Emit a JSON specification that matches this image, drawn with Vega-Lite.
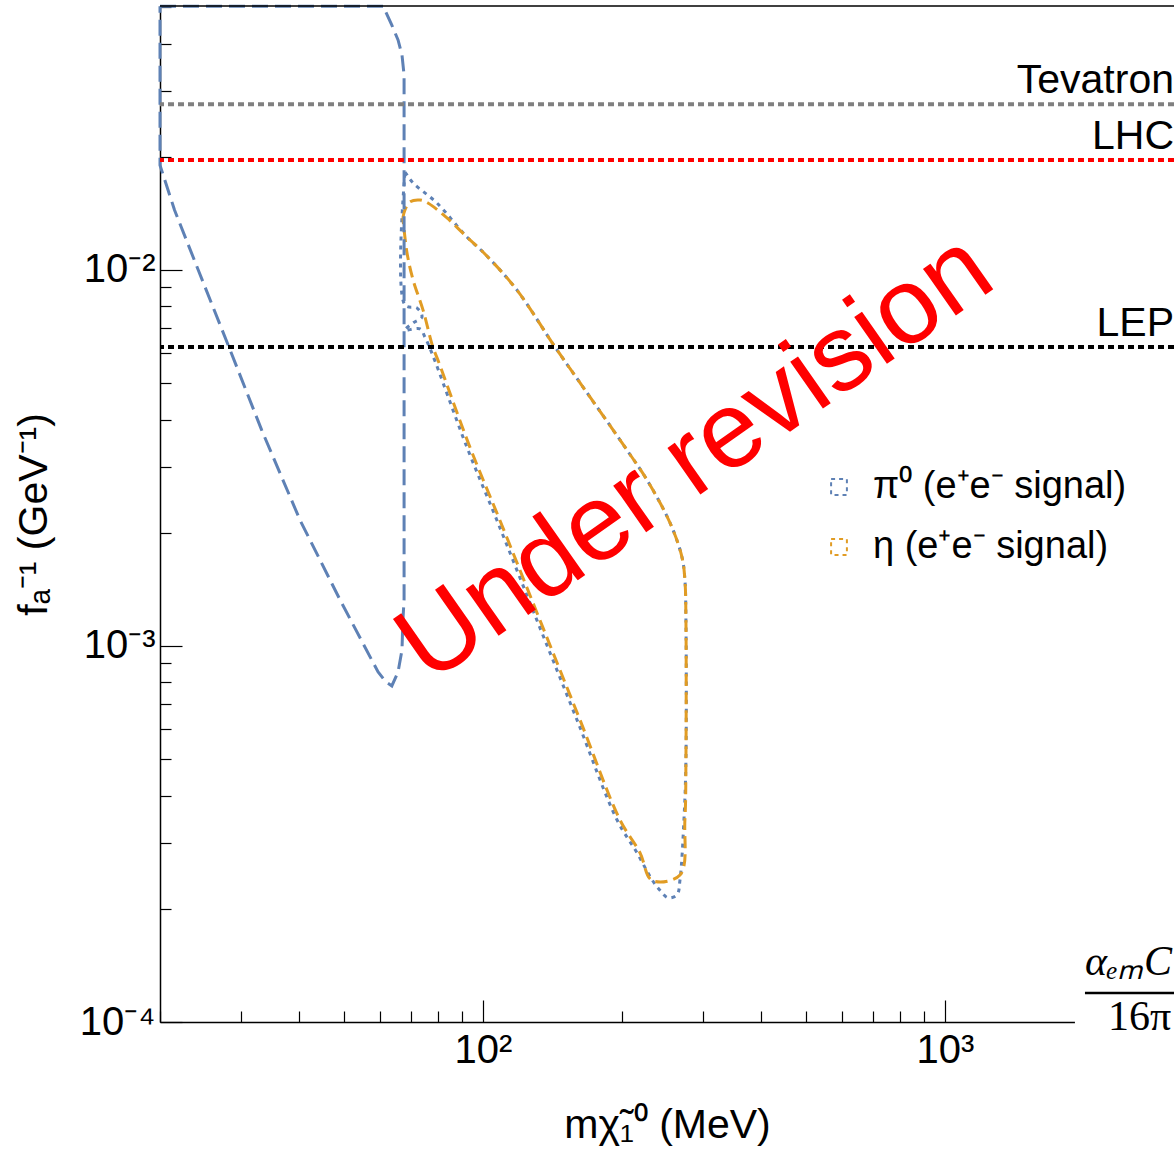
{
  "$schema": "https://vega.github.io/schema/vega-lite/v6.json",
  "width": 1014,
  "height": 1016,
  "autosize": {"type": "none"},
  "padding": {"left": 160, "top": 6, "right": 0, "bottom": 132},
  "background": "white",
  "config": {
    "view": {"stroke": null},
    "font": "Liberation Sans",
    "axis": {
      "grid": false,
      "domainColor": "black",
      "domainWidth": 1.5,
      "tickColor": "black",
      "tickWidth": 1.2,
      "labelColor": "black",
      "titleColor": "black",
      "labelFont": "Liberation Sans",
      "titleFont": "Liberation Sans",
      "labelFontSize": 40,
      "titleFontSize": 41,
      "titleFontWeight": "normal",
      "labelOverlap": false,
      "labelFlush": false
    }
  },
  "layer": [
    {
      "data": {
        "values": [
          {"loop": "B", "series": "π⁰ (e⁺e⁻ signal)", "style": "dot", "i": 1, "m": 67.8, "f": 0.0182},
          {"loop": "B", "series": "π⁰ (e⁺e⁻ signal)", "style": "dot", "i": 2, "m": 68.5, "f": 0.0179},
          {"loop": "B", "series": "π⁰ (e⁺e⁻ signal)", "style": "dot", "i": 3, "m": 70.6, "f": 0.01703},
          {"loop": "B", "series": "π⁰ (e⁺e⁻ signal)", "style": "dot", "i": 4, "m": 79.5, "f": 0.01507},
          {"loop": "B", "series": "π⁰ (e⁺e⁻ signal)", "style": "dot", "i": 5, "m": 92.3, "f": 0.01224},
          {"loop": "B", "series": "π⁰ (e⁺e⁻ signal)", "style": "dot", "i": 6, "m": 101.0, "f": 0.01103},
          {"loop": "B", "series": "π⁰ (e⁺e⁻ signal)", "style": "dot", "i": 7, "m": 118.4, "f": 0.00885},
          {"loop": "B", "series": "π⁰ (e⁺e⁻ signal)", "style": "dot", "i": 8, "m": 143.2, "f": 0.00624},
          {"loop": "B", "series": "π⁰ (e⁺e⁻ signal)", "style": "dot", "i": 9, "m": 160.6, "f": 0.0051},
          {"loop": "B", "series": "π⁰ (e⁺e⁻ signal)", "style": "dot", "i": 10, "m": 205.0, "f": 0.00332},
          {"loop": "B", "series": "π⁰ (e⁺e⁻ signal)", "style": "dot", "i": 11, "m": 226.5, "f": 0.002764},
          {"loop": "B", "series": "π⁰ (e⁺e⁻ signal)", "style": "dot", "i": 12, "m": 254.1, "f": 0.002124},
          {"loop": "B", "series": "π⁰ (e⁺e⁻ signal)", "style": "dot", "i": 13, "m": 269.6, "f": 0.001724},
          {"loop": "B", "series": "π⁰ (e⁺e⁻ signal)", "style": "dot", "i": 14, "m": 273.6, "f": 0.001498},
          {"loop": "B", "series": "π⁰ (e⁺e⁻ signal)", "style": "dot", "i": 15, "m": 275.0, "f": 0.00117},
          {"loop": "B", "series": "π⁰ (e⁺e⁻ signal)", "style": "dot", "i": 16, "m": 275.0, "f": 0.000497},
          {"loop": "B", "series": "π⁰ (e⁺e⁻ signal)", "style": "dot", "i": 17, "m": 272.3, "f": 0.000345},
          {"loop": "B", "series": "π⁰ (e⁺e⁻ signal)", "style": "dot", "i": 18, "m": 267.0, "f": 0.000239},
          {"loop": "B", "series": "π⁰ (e⁺e⁻ signal)", "style": "dot", "i": 19, "m": 263.0, "f": 0.000218},
          {"loop": "B", "series": "π⁰ (e⁺e⁻ signal)", "style": "dot", "i": 20, "m": 251.5, "f": 0.000214},
          {"loop": "B", "series": "π⁰ (e⁺e⁻ signal)", "style": "dot", "i": 21, "m": 241.6, "f": 0.000224},
          {"loop": "B", "series": "π⁰ (e⁺e⁻ signal)", "style": "dot", "i": 22, "m": 232.2, "f": 0.000239},
          {"loop": "B", "series": "π⁰ (e⁺e⁻ signal)", "style": "dot", "i": 23, "m": 215.4, "f": 0.000282},
          {"loop": "B", "series": "π⁰ (e⁺e⁻ signal)", "style": "dot", "i": 24, "m": 195.0, "f": 0.000345},
          {"loop": "B", "series": "π⁰ (e⁺e⁻ signal)", "style": "dot", "i": 25, "m": 159.8, "f": 0.000636},
          {"loop": "B", "series": "π⁰ (e⁺e⁻ signal)", "style": "dot", "i": 26, "m": 130.9, "f": 0.00117},
          {"loop": "B", "series": "π⁰ (e⁺e⁻ signal)", "style": "dot", "i": 27, "m": 107.2, "f": 0.00216},
          {"loop": "B", "series": "π⁰ (e⁺e⁻ signal)", "style": "dot", "i": 28, "m": 92.3, "f": 0.00338},
          {"loop": "B", "series": "π⁰ (e⁺e⁻ signal)", "style": "dot", "i": 29, "m": 77.5, "f": 0.00602},
          {"loop": "B", "series": "π⁰ (e⁺e⁻ signal)", "style": "dot", "i": 30, "m": 74.9, "f": 0.00663},
          {"loop": "B", "series": "π⁰ (e⁺e⁻ signal)", "style": "dot", "i": 31, "m": 73.1, "f": 0.00697},
          {"loop": "B", "series": "π⁰ (e⁺e⁻ signal)", "style": "dot", "i": 32, "m": 67.8, "f": 0.00692},
          {"loop": "B", "series": "π⁰ (e⁺e⁻ signal)", "style": "dot", "i": 33, "m": 70.6, "f": 0.00723},
          {"loop": "B", "series": "π⁰ (e⁺e⁻ signal)", "style": "dot", "i": 34, "m": 73.8, "f": 0.0075},
          {"loop": "B", "series": "π⁰ (e⁺e⁻ signal)", "style": "dot", "i": 35, "m": 72.0, "f": 0.00792},
          {"loop": "B", "series": "π⁰ (e⁺e⁻ signal)", "style": "dot", "i": 36, "m": 67.8, "f": 0.00807},
          {"loop": "B", "series": "π⁰ (e⁺e⁻ signal)", "style": "dot", "i": 37, "m": 67.8, "f": 0.0182},

          {"loop": "C", "series": "η (e⁺e⁻ signal)", "style": "dash", "i": 1, "m": 67.1, "f": 0.01375},
          {"loop": "C", "series": "η (e⁺e⁻ signal)", "style": "dash", "i": 2, "m": 67.8, "f": 0.01444},
          {"loop": "C", "series": "η (e⁺e⁻ signal)", "style": "dash", "i": 3, "m": 69.5, "f": 0.01517},
          {"loop": "C", "series": "η (e⁺e⁻ signal)", "style": "dash", "i": 4, "m": 73.1, "f": 0.01535},
          {"loop": "C", "series": "η (e⁺e⁻ signal)", "style": "dash", "i": 5, "m": 76.0, "f": 0.01507},
          {"loop": "C", "series": "η (e⁺e⁻ signal)", "style": "dash", "i": 6, "m": 83.6, "f": 0.01375},
          {"loop": "C", "series": "η (e⁺e⁻ signal)", "style": "dash", "i": 7, "m": 92.3, "f": 0.01224},
          {"loop": "C", "series": "η (e⁺e⁻ signal)", "style": "dash", "i": 8, "m": 101.0, "f": 0.01103},
          {"loop": "C", "series": "η (e⁺e⁻ signal)", "style": "dash", "i": 9, "m": 118.4, "f": 0.00885},
          {"loop": "C", "series": "η (e⁺e⁻ signal)", "style": "dash", "i": 10, "m": 143.2, "f": 0.00624},
          {"loop": "C", "series": "η (e⁺e⁻ signal)", "style": "dash", "i": 11, "m": 160.6, "f": 0.0051},
          {"loop": "C", "series": "η (e⁺e⁻ signal)", "style": "dash", "i": 12, "m": 205.0, "f": 0.00332},
          {"loop": "C", "series": "η (e⁺e⁻ signal)", "style": "dash", "i": 13, "m": 226.5, "f": 0.002764},
          {"loop": "C", "series": "η (e⁺e⁻ signal)", "style": "dash", "i": 14, "m": 254.1, "f": 0.002124},
          {"loop": "C", "series": "η (e⁺e⁻ signal)", "style": "dash", "i": 15, "m": 269.6, "f": 0.001724},
          {"loop": "C", "series": "η (e⁺e⁻ signal)", "style": "dash", "i": 16, "m": 273.6, "f": 0.001498},
          {"loop": "C", "series": "η (e⁺e⁻ signal)", "style": "dash", "i": 17, "m": 275.0, "f": 0.00117},
          {"loop": "C", "series": "η (e⁺e⁻ signal)", "style": "dash", "i": 18, "m": 275.0, "f": 0.000497},
          {"loop": "C", "series": "η (e⁺e⁻ signal)", "style": "dash", "i": 19, "m": 273.6, "f": 0.000345},
          {"loop": "C", "series": "η (e⁺e⁻ signal)", "style": "dash", "i": 20, "m": 267.0, "f": 0.000246},
          {"loop": "C", "series": "η (e⁺e⁻ signal)", "style": "dash", "i": 21, "m": 232.2, "f": 0.000238},
          {"loop": "C", "series": "η (e⁺e⁻ signal)", "style": "dash", "i": 22, "m": 218.7, "f": 0.000282},
          {"loop": "C", "series": "η (e⁺e⁻ signal)", "style": "dash", "i": 23, "m": 197.9, "f": 0.000345},
          {"loop": "C", "series": "η (e⁺e⁻ signal)", "style": "dash", "i": 24, "m": 162.2, "f": 0.000636},
          {"loop": "C", "series": "η (e⁺e⁻ signal)", "style": "dash", "i": 25, "m": 132.9, "f": 0.00117},
          {"loop": "C", "series": "η (e⁺e⁻ signal)", "style": "dash", "i": 26, "m": 108.8, "f": 0.00216},
          {"loop": "C", "series": "η (e⁺e⁻ signal)", "style": "dash", "i": 27, "m": 93.7, "f": 0.00338},
          {"loop": "C", "series": "η (e⁺e⁻ signal)", "style": "dash", "i": 28, "m": 79.9, "f": 0.00576},
          {"loop": "C", "series": "η (e⁺e⁻ signal)", "style": "dash", "i": 29, "m": 77.9, "f": 0.00624},
          {"loop": "C", "series": "η (e⁺e⁻ signal)", "style": "dash", "i": 30, "m": 74.2, "f": 0.00782},
          {"loop": "C", "series": "η (e⁺e⁻ signal)", "style": "dash", "i": 31, "m": 70.6, "f": 0.00941},
          {"loop": "C", "series": "η (e⁺e⁻ signal)", "style": "dash", "i": 32, "m": 68.5, "f": 0.0111},
          {"loop": "C", "series": "η (e⁺e⁻ signal)", "style": "dash", "i": 33, "m": 67.1, "f": 0.01375}
        ]
      },
      "mark": {"type": "line", "strokeWidth": 3, "strokeCap": "butt", "interpolate": "catmull-rom"},
      "encoding": {
        "x": {
          "field": "m", "type": "quantitative",
          "scale": {"type": "log", "domain": [20, 3131], "nice": false},
          "axis": {
            "title": "mχ̃₁⁰ (MeV)",
            "values": [20, 30, 40, 50, 60, 70, 80, 90, 100, 200, 300, 400, 500, 600, 700, 800, 900, 1000],
            "tickSize": {"condition": {"test": "datum.value == 100 || datum.value == 1000", "value": -22}, "value": -11},
            "labelExpr": "datum.value == 100 ? '10²' : datum.value == 1000 ? '10³' : ''",
            "labelPadding": 30,
            "titlePadding": 24
          }
        },
        "y": {
          "field": "f", "type": "quantitative",
          "scale": {"type": "log", "domain": [0.0001, 0.05036], "nice": false},
          "axis": {
            "title": "fₐ⁻¹ (GeV⁻¹)",
            "values": [0.0001, 0.0002, 0.0003, 0.0004, 0.0005, 0.0006, 0.0007, 0.0008, 0.0009, 0.001, 0.002, 0.003, 0.004, 0.005, 0.006, 0.007, 0.008, 0.009, 0.01, 0.02, 0.03, 0.04, 0.05],
            "tickSize": {"condition": {"test": "datum.value == 0.01 || datum.value == 0.001 || datum.value == 0.0001", "value": -22}, "value": -11},
            "labelExpr": "datum.value == 0.01 ? '10⁻²' : datum.value == 0.001 ? '10⁻³' : datum.value == 0.0001 ? '10⁻⁴' : ''",
            "labelPadding": 27,
            "titlePadding": 24
          }
        },
        "color": {
          "field": "series", "type": "nominal",
          "scale": {"domain": ["π⁰ (e⁺e⁻ signal)", "η (e⁺e⁻ signal)"], "range": ["#5E81B5", "#E19C24"]},
          "legend": {
            "orient": "none", "legendX": 660, "legendY": 462, "title": null,
            "symbolType": "square", "symbolSize": 250, "symbolStrokeWidth": 2,
            "symbolDash": [4, 4], "symbolFillColor": "transparent",
            "labelFont": "Liberation Sans", "labelFontSize": 38, "labelColor": "black",
            "labelLimit": 500,
            "rowPadding": 22, "labelOffset": 15, "padding": 0
          }
        },
        "strokeDash": {
          "field": "style", "type": "nominal",
          "scale": {"domain": ["long", "dash", "dot"], "range": [[16, 7], [12, 6], [4, 5]]},
          "legend": null
        },
        "detail": {"field": "loop"},
        "order": {"field": "i", "type": "quantitative"}
      }
    },
    {
      "data": {
        "values": [
          {"loop": "D", "series": "π⁰ (e⁺e⁻ signal)", "style": "long", "i": 1, "m": 20, "f": 0.0503},
          {"loop": "D", "series": "π⁰ (e⁺e⁻ signal)", "style": "long", "i": 2, "m": 60.8, "f": 0.0503},
          {"loop": "D", "series": "π⁰ (e⁺e⁻ signal)", "style": "long", "i": 3, "m": 63.5, "f": 0.0448},
          {"loop": "D", "series": "π⁰ (e⁺e⁻ signal)", "style": "long", "i": 4, "m": 65.5, "f": 0.0409},
          {"loop": "D", "series": "π⁰ (e⁺e⁻ signal)", "style": "long", "i": 5, "m": 66.8, "f": 0.0373},
          {"loop": "D", "series": "π⁰ (e⁺e⁻ signal)", "style": "long", "i": 6, "m": 67.5, "f": 0.0330},
          {"loop": "D", "series": "π⁰ (e⁺e⁻ signal)", "style": "long", "i": 7, "m": 67.5, "f": 0.0209},
          {"loop": "D", "series": "π⁰ (e⁺e⁻ signal)", "style": "long", "i": 8, "m": 67.5, "f": 0.00451},
          {"loop": "D", "series": "π⁰ (e⁺e⁻ signal)", "style": "long", "i": 9, "m": 67.5, "f": 0.00133},
          {"loop": "D", "series": "π⁰ (e⁺e⁻ signal)", "style": "long", "i": 10, "m": 67.1, "f": 0.00117},
          {"loop": "D", "series": "π⁰ (e⁺e⁻ signal)", "style": "long", "i": 11, "m": 66.8, "f": 0.000976},
          {"loop": "D", "series": "π⁰ (e⁺e⁻ signal)", "style": "long", "i": 12, "m": 65.5, "f": 0.000853},
          {"loop": "D", "series": "π⁰ (e⁺e⁻ signal)", "style": "long", "i": 13, "m": 63.5, "f": 0.000783},
          {"loop": "D", "series": "π⁰ (e⁺e⁻ signal)", "style": "long", "i": 14, "m": 61.7, "f": 0.000802},
          {"loop": "D", "series": "π⁰ (e⁺e⁻ signal)", "style": "long", "i": 15, "m": 59.3, "f": 0.000853},
          {"loop": "D", "series": "π⁰ (e⁺e⁻ signal)", "style": "long", "i": 16, "m": 49.0, "f": 0.00133},
          {"loop": "D", "series": "π⁰ (e⁺e⁻ signal)", "style": "long", "i": 17, "m": 40.2, "f": 0.00216},
          {"loop": "D", "series": "π⁰ (e⁺e⁻ signal)", "style": "long", "i": 18, "m": 33.2, "f": 0.00375},
          {"loop": "D", "series": "π⁰ (e⁺e⁻ signal)", "style": "long", "i": 19, "m": 28.2, "f": 0.00624},
          {"loop": "D", "series": "π⁰ (e⁺e⁻ signal)", "style": "long", "i": 20, "m": 24.2, "f": 0.01},
          {"loop": "D", "series": "π⁰ (e⁺e⁻ signal)", "style": "long", "i": 21, "m": 21.5, "f": 0.01444},
          {"loop": "D", "series": "π⁰ (e⁺e⁻ signal)", "style": "long", "i": 22, "m": 20, "f": 0.0190},
          {"loop": "D", "series": "π⁰ (e⁺e⁻ signal)", "style": "long", "i": 23, "m": 20, "f": 0.0503}
        ]
      },
      "mark": {"type": "line", "strokeWidth": 3, "strokeCap": "butt"},
      "encoding": {
        "x": {"field": "m", "type": "quantitative"},
        "y": {"field": "f", "type": "quantitative"},
        "color": {"field": "series", "type": "nominal"},
        "strokeDash": {"field": "style", "type": "nominal", "legend": null},
        "detail": {"field": "loop"},
        "order": {"field": "i", "type": "quantitative"}
      }
    },
    {
      "data": {"values": [{"name": "Tevatron", "v": 0.0276}]},
      "layer": [
        {"mark": {"type": "rule", "color": "#808080", "strokeWidth": 4, "strokeDash": [6, 4]}, "encoding": {"y": {"field": "v", "type": "quantitative"}}},
        {"mark": {"type": "text", "align": "right", "baseline": "alphabetic", "dy": -11, "fontSize": 41, "color": "black"}, "encoding": {"x": {"datum": 3131}, "y": {"field": "v", "type": "quantitative"}, "text": {"field": "name"}}}
      ]
    },
    {
      "data": {"values": [{"name": "LHC", "v": 0.0196}]},
      "layer": [
        {"mark": {"type": "rule", "color": "#FF0000", "strokeWidth": 4, "strokeDash": [6, 4]}, "encoding": {"y": {"field": "v", "type": "quantitative"}}},
        {"mark": {"type": "text", "align": "right", "baseline": "alphabetic", "dy": -11, "fontSize": 41, "color": "black"}, "encoding": {"x": {"datum": 3131}, "y": {"field": "v", "type": "quantitative"}, "text": {"field": "name"}}}
      ]
    },
    {
      "data": {"values": [{"name": "LEP", "v": 0.00624}]},
      "layer": [
        {"mark": {"type": "rule", "color": "#000000", "strokeWidth": 4, "strokeDash": [6, 4]}, "encoding": {"y": {"field": "v", "type": "quantitative"}}},
        {"mark": {"type": "text", "align": "right", "baseline": "alphabetic", "dy": -11, "fontSize": 41, "color": "black"}, "encoding": {"x": {"datum": 3131}, "y": {"field": "v", "type": "quantitative"}, "text": {"field": "name"}}}
      ]
    },
    {
      "data": {"values": [{"note": "frame"}]},
      "mark": {"type": "rule", "color": "black", "strokeWidth": 1.5},
      "encoding": {"y": {"datum": 0.05036}}
    },
    {
      "data": {"values": [{"note": "fraction"}]},
      "layer": [
        {
          "mark": {"type": "rect", "color": "white"},
          "encoding": {"x": {"datum": 1911}, "x2": {"datum": 3131}, "y": {"datum": 0.0001063}, "y2": {"datum": 0.0000941}}
        },
        {
          "mark": {"type": "text", "align": "left", "baseline": "alphabetic", "font": "Liberation Serif", "fontStyle": "italic", "fontSize": 42, "color": "black"},
          "encoding": {"x": {"datum": 2009}, "y": {"datum": 0.0001333}, "text": {"value": "αₑₘC"}}
        },
        {
          "mark": {"type": "rule", "color": "black", "strokeWidth": 2.5},
          "encoding": {"x": {"datum": 2009}, "x2": {"datum": 3131}, "y": {"datum": 0.0001194}}
        },
        {
          "mark": {"type": "text", "align": "left", "baseline": "alphabetic", "font": "Liberation Serif", "fontSize": 42, "color": "black"},
          "encoding": {"x": {"datum": 2253}, "y": {"datum": 0.0000952}, "text": {"value": "16π"}}
        }
      ]
    },
    {
      "data": {"values": [{"note": "watermark"}]},
      "mark": {"type": "text", "align": "center", "baseline": "alphabetic", "angle": -35, "fontSize": 108, "color": "#FF0000", "font": "Liberation Sans"},
      "encoding": {"x": {"datum": 316}, "y": {"datum": 0.00268}, "text": {"value": "Under revision"}}
    }
  ]
}
